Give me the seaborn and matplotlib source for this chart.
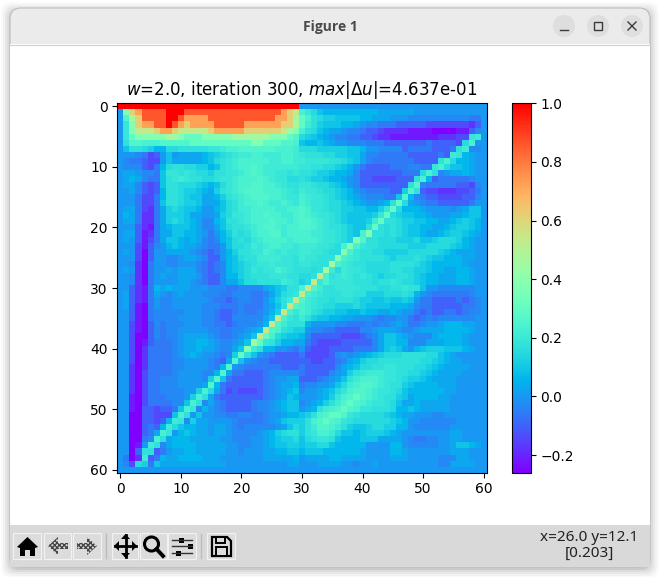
import numpy as np
import matplotlib
matplotlib.use("Agg")
import matplotlib.pyplot as plt
from matplotlib.patches import Circle, FancyBboxPatch, Polygon, Rectangle
import seaborn as sns

# =========================
# DATA (one letter per cell)
# =========================

level_codes = "abcdefghijklmnopqrstuvwxyz"
level_values = [-0.26, -0.22, -0.18, -0.14, -0.10, -0.06, -0.03, 0.00, 0.03, 0.06,
                0.09, 0.12, 0.15, 0.17, 0.19, 0.21, 0.235, 0.26, 0.30, 0.38,
                0.46, 0.54, 0.62, 0.72, 0.86, 1.00]

upper_rows = [
    "zzzzzzzzzz zzzzzzzzzz zzzzzzzzzz hhhhhhhhhh hhhhhhhhhh hhhhhhhhhh h",
    "htwxyyyyzz zyyyyyyyyy yyyyyyyxwv qomkjjjjjj jjjiiiiiih hhhhhhhhhh h",
    "hruwyyyyzz yxxxxyyyyy yyyyyyxxwu sqnmllkkkk jjiiihhhgg ggggggggff h",
    "hotwxxyyzy xwxxxxyyyy yxxxxxxwwu spnlkkkjji hggfffeeee edddddddce h",
    "hotvvvwxxw vvvvvwxxxx xwwwwwwvut qnmkjiihgg feedccccbb bbaaaabbeg h",
    "hostttttuu tssstttttu uuuuutttsr mlkjihggff eedccbbbbb bbbcccddop h",
    "hnrrqqqrrr rrssssssss ssttsssrrq kjjkjihhgg gfffeeeeee efeeeedmqh h",
    "hknnmljjmm nnnnnoopqq rrrrrrqqqp mmmlllllkk jhhggggeff ffeeefnpgg h",
    "hhhgfdehkh iiiijklmno ppqqpppqqp onnnmmllkk iggfffffee eeefepojih h",
    "hgffeddhki iiiijkmnop qqqqqppqqp poooonnmlk igfffffffe eeenqmjjih h",
    "hgggedfjmn nmmlljknop qqrqpppppp oonnmmlkjh feeeefffgg ffoqmkkjih h",
    "hiihggfkoo nonmmlnnoo pqrqppoono nnmllkjjig eeeeeeefff mqnghiijih h",
    "hijigffkno ponnmmnoop qqqrqpoomm nmllkjjihg eeddddeeen qjefffffgh h",
    "hiigedeknn mmmlkjkmop qqrrqqponn oonmmlkjhg eeeeeeeenr gfffffeedg h",
    "hhigedejnn mllkjilnop qrrrqqqpon poonmmlkjh gffffeelrn eddcccddef h",
    "hhhfddfjnn mlkkiijlno pqrrrqqpoo qpoonmlkji hgggffkrjg feeddddeeg h",
    "hhhfddfknn mllkiiikmn pqqrqppqpo qpoonmmlkj ihhijnsmih gffeeeeefh h",
    "hiifdcfilm lkkjhhjkmn ppqqqqppqq rqoonmmllk kjjlosmjjj ihhhhghikk h",
    "hjifccfill lkiihhilmo opqqrqqppq rqpoonmlkk kklosmlkkj jihhhiijkk h",
    "hiifccfilm lkjiggjknn opqqqrqqpq rrqponmlkk klpsnnmllk kjjiijklkj h",
    "hhhecbfijk kkjiggikmn nopqrrqpqq rrqponnmlk knsnmnmlkk jjiijkllkj h",
]

middle_rows = [
    "hiiebcfiik kjjihfhjln mnpqqrrpqq qqppoonmlk qtnnmnmlkk jiijkllkji h",
    "hihebdfikk jijigfgjkm nmopqqqqpq qqqpoonmlt rnnmmmlllm kklmmmljih h",
    "hhhdbeghjk jiihgffhkm mnpopqqppo pppoonmqtq onnmmmmmll lmmmmlkjih h",
    "hihdaehhii iihgfefhjl nnooqpopoo ppoonmmtqo nnmmllllmm mmmlkjiiih h",
    "hhhdaehhgg hiihgeehjk mnnppppoon poonnntqpo nnnnmlmmmn mlkkjjjiih h",
    "hhgcafhhgg hhhgfefgjk lmnoopooon oonnnuqpon nmmmmnnnnm lkjjjjjihh h",
    "hihcafhhih iiigfefgjk lmonooqpon nnmnupmpoo nmmmmnnmml lkjjiijjih h",
    "hhgcafhihh iiihfeegjj lmnnnooonn mmnvqnopon onmlmmnnml kjjiiijjih h",
    "hhgcafhhhh iihgfeegii kmmnnnnpon lmvoqoooon nnmnnonmml kjjiiijjih h",
    "hhecbfjiji iihhhgggff ggggijklnn qvrpnnoooo nnnmmnnonn khhggggggh h",
    "hiecbfihgh ihhhgggffg ggffgikmno vqponnnoon nlllmmmnmj hgffffffgh h",
    "hiecbfhggh hhhhhgffef ggffhjlnpv rponnmnnnm llkklkklkh ffeeeefefg h",
    "hiebafhggh hhhhgggfff gfffhiknvr qponmmlllm lkkkkjjjig ffeeeeeffg h",
    "hhebafgggg ghhhggfeef gffghjlvqo qpnmllkkjj kjjiijihhf efeeffefgg h",
    "hhebafgggg hhhhggfeeg ggggikvqon pnlkkjjiih hhgfgghhfe fgfggggggh h",
    "hhdbaegfgg ghhhggffef ggghjvrpnn njhhhhggff fgfgghihff ghhijjjiih h",
    "hhdbaegfgg hhhhhggffg ghijvrqnml lhggffeeee gghiiihggh iiiijjjjih h",
    "hhdaaegfgg hiiiihgffg hikvsqmlkk jgeeeeeddd efgikkjihg ggijjjjihh h",
    "hhdabefffg hiijjihggh ikusonljji ifeddddeee eegikkjjgg giiijjjihh h",
    "hhdacffffg hiijiihggi ktpnjjhhgf hedddeeeef ffgiklkihj klllkkkjih h",
]

lower_rows = [
    "hhdacffffg hijihhgfgl snkhgfeeee fddddeghgh ijklmmmnnn nmmkjihhhh h",
    "hhdacffffg ghhhhgfeir khgffeeeee eeddeefgij lmmnnnnnnn mmlkjiihhh h",
    "hhcacffffg ghhhhgfjrh gffffffeee feeeeegijk mmnnoonnnm mlkjiiiihh h",
    "hhcadffffg hhhhggjrif feeefggggg feeeeghiln opppoonnmm lkjiiiihhh h",
    "hhcadffggg hhhhglrkfe eeeefghhii eeefghiknp qqqpoonmll kjiiiihhhh h",
    "hhcadffggg hhhhirjfee eeeefghiij fgghhikmpq rrqponnlkj jjjiiihhhh h",
    "hhcadffggg ghhlqmifde dddefghijk ghhijkmoqr rqpoonmkjj jjjjiihhhh h",
    "hhbadfffgg ghlqnifeee eeeefghikj hhhijloqrs rqponnlkij jjjiihhhhh h",
    "hhbadffffg gkqngigfee eefgghijkk ghijlnprsr qpoonmkiij iiiiihhhhh h",
    "hhbaeedeef kqogjhgfee eefgghijkk hijnpqrsrq oonnnmjjkj iiiiihhhhh h",
    "hhaaeedddk qnhkhhggff ggffghhijj klnqrssron mmmmlkjiih hhgghhhhhh h",
    "hhaaeedejp ogliihhhhg ffffghikll lnqrsrqonm mmmmmlkjhh gggggghhhh h",
    "hhaaefejpm kjjiihiihg fggggghikm lnprrqpnlk klmmlljjhg ggggghhhhh h",
    "hhaaefiqoh jkjiihiihg ggghijlmnn lnoqqpmkkj klllkjihhh hhhhhiihhh h",
    "hhaafgqnij jjiiiiihhg gghhijkllm kmnoonkjjj kkkiiiihgf fgghhiihhh h",
    "hhabhpngij jjjiiiiihh gghhijkkll kllmmkjjjj jhhhhjjhgg ggghhikkji h",
    "hhaennefhi ijjiiiiihh ghhhiijjkk jkkkjjjjjj ihhhhjjihh hhhhhiiihh h",
    "hfacpefjii jjjjiiihhh hhhhiiiiij hiiiijjiii ihhhhiiihh hhhgggiihh h",
    "hgdmlfkiii iiiiiiiihh hhhhhhhhii hhhiiiihhg hhihhhhhhh hhhggiiiih h",
    "hhhhhhhhhh hhhhhhhhhh hhhhhhhhhh hhhhhhhhhh hhhhhhhhhh hhhhhhhhhh h",
]

tick_labels = [0, 10, 20, 30, 40, 50, 60]
cbar_ticks = [-0.2, 0.0, 0.2, 0.4, 0.6, 0.8, 1.0]

# =========================
# BUILD MATRIX
# =========================

code_to_value = dict(zip(level_codes, level_values))
all_rows = [r.replace(" ", "") for r in upper_rows + middle_rows + lower_rows]
u = np.array([[code_to_value[c] for c in row] for row in all_rows])

# =========================
# WINDOW
# =========================

W, H = 660, 577
fig = plt.figure(figsize=(6.6, 5.77), dpi=100, facecolor="white")

bg = fig.add_axes([0, 0, 1, 1], zorder=-1)
bg.set_xlim(0, W)
bg.set_ylim(H, 0)
bg.axis("off")

# soft shadow
for grow, alpha in [(9, 0.02), (7, 0.03), (5, 0.04), (3, 0.05), (1, 0.08)]:
    bg.add_patch(FancyBboxPatch((10 - grow, 9 - grow + 2), 640 + 2 * grow, 558 + 2 * grow,
                                boxstyle="round,pad=0,rounding_size=10", fc="black", ec="none", alpha=alpha))

bg.add_patch(FancyBboxPatch((10, 8), 640, 559, boxstyle="round,pad=0,rounding_size=11",
                            fc="#ebebeb", ec="#bdbdbd", lw=0.8))
bg.add_patch(Rectangle((10, 44), 640, 482, fc="white", ec="none"))
bg.plot([10, 650], [44.5, 44.5], color="#cfcfcf", lw=0.8)
bg.add_patch(Rectangle((10, 525), 640, 42, fc="#d9d9d9", ec="none"))

bg.text(330, 27, "Figure 1", ha="center", va="center", fontsize=10, fontweight="bold",
        family="Open Sans", color="#4a4a4a")

for cx in [564, 598, 632]:
    bg.add_patch(Circle((cx, 26), 11, fc="#dedede", ec="none"))
bg.plot([560, 568], [29.5, 29.5], color="#3a3a3a", lw=1)
bg.add_patch(Rectangle((594, 22), 8, 8, fc="none", ec="#3a3a3a", lw=1))
bg.plot([628, 636], [22, 30], color="#3a3a3a", lw=1)
bg.plot([628, 636], [30, 22], color="#3a3a3a", lw=1)

# =========================
# TOOLBAR
# =========================

for x0, x1 in [(13, 41), (44, 71), (73, 101), (112, 138), (140, 167), (168, 196), (207, 235)]:
    bg.add_patch(Rectangle((x0, 533), x1 - x0, 26, fc="#dcdcdc", ec="#f2f2f2", lw=0.8))
for x in [106, 201]:
    bg.plot([x, x], [534, 558], color="#bcbcbc", lw=1)

# home
bg.add_patch(Polygon([(17, 547), (27.5, 537), (38, 547), (35, 548), (35, 556), (30, 556), (30, 550),
                      (25, 550), (25, 556), (20, 556), (20, 548)], fc="black", ec="none"))
# back / forward
bg.add_patch(Polygon([(48, 546), (58, 537), (58, 543), (68, 543), (68, 549), (58, 549), (58, 555)],
                     fc="#dcdcdc", ec="#444444", hatch="xxxxxxx", lw=0))
bg.add_patch(Polygon([(97, 546), (87, 537), (87, 543), (77, 543), (77, 549), (87, 549), (87, 555)],
                     fc="#dcdcdc", ec="#444444", hatch="xxxxxxx", lw=0))
# move
bg.plot([115, 136], [546, 546], color="black", lw=2)
bg.plot([125.5, 125.5], [535, 557], color="black", lw=2)
for pts in [[(114, 546), (119, 541), (119, 551)], [(137, 546), (132, 541), (132, 551)],
            [(125.5, 534), (121, 539), (130, 539)], [(125.5, 558), (121, 553), (130, 553)]]:
    bg.add_patch(Polygon(pts, fc="black", ec="none"))
# zoom
bg.add_patch(Circle((151.5, 544), 7, fc="none", ec="black", lw=2.2))
bg.plot([156.5, 163], [549, 556], color="black", lw=2.8)
# configure
for y, knob in [(540, 179), (546, 188), (553, 176)]:
    bg.plot([172, 192], [y, y], color="#333333", lw=1)
    bg.add_patch(Rectangle((knob, y - 2.5), 5, 5, fc="black", ec="none"))
# save
bg.add_patch(Polygon([(212, 537), (227, 537), (231, 541), (231, 556), (212, 556)], fc="#dcdcdc", ec="black", lw=1.6))
bg.add_patch(Rectangle((216, 537), 9, 6, fc="#dcdcdc", ec="black", lw=1.4))
bg.add_patch(Rectangle((216, 547), 11, 9, fc="#dcdcdc", ec="black", lw=1.4))

bg.text(589, 537.5, "x=26.0 y=12.1", ha="center", va="center", fontsize=11, family="Noto Sans", color="#222222")
bg.text(589, 553, "[0.203]", ha="center", va="center", fontsize=11, family="Noto Sans", color="#222222")

# =========================
# HEATMAP
# =========================

ax = fig.add_axes([117.3 / W, 1 - 472.7 / H, 369.4 / W, 369.4 / H])
cax = fig.add_axes([512 / W, 1 - 472.7 / H, 18.5 / W, 369.4 / H])

sns.heatmap(u, ax=ax, cbar_ax=cax, cmap="rainbow", vmin=-0.26, vmax=1.0,
            xticklabels=False, yticklabels=False)

ax.set_xticks([t + 0.5 for t in tick_labels])
ax.set_xticklabels(tick_labels, rotation=0)
ax.set_yticks([t + 0.5 for t in tick_labels])
ax.set_yticklabels(tick_labels, rotation=0)
ax.tick_params(left=True, bottom=True, length=3.5, width=0.8, labelsize=10)
for spine in ax.spines.values():
    spine.set_visible(True)
    spine.set_linewidth(0.8)

ax.set_title(r"$w$=2.0, iteration 300, $max|\Delta u|$=4.637e-01", fontsize=12, pad=6)

cbar = ax.collections[0].colorbar
cbar.set_ticks(cbar_ticks)
cbar.ax.tick_params(length=3.5, width=0.8, labelsize=10)
cbar.outline.set_visible(True)
cbar.outline.set_linewidth(0.8)

fig.savefig("out.png", dpi=100)
plt.close(fig)
